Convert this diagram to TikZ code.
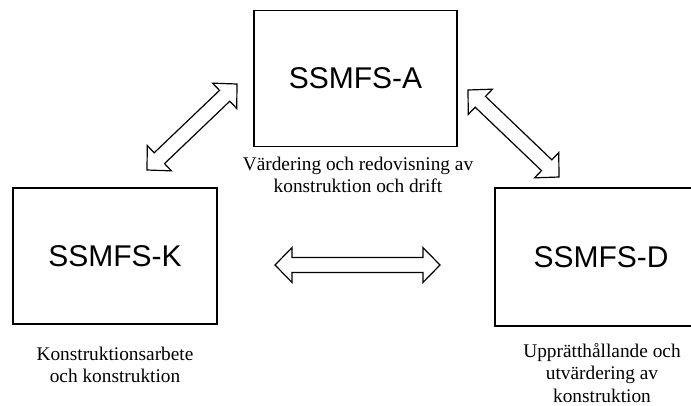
\documentclass[tikz,border=0pt]{standalone}
\usepackage{fontspec}
\setmainfont{Liberation Serif}
\setsansfont{Liberation Sans}
\usetikzlibrary{calc, positioning}

% hollow two-headed arrow between two named points
\newcommand{\blockarrow}[2]{%
  \draw[barrow]
    (#1)
    -- ($(#1)!12.8pt!(#2)!13.1pt!90:(#2)$)
    -- ($(#1)!12.8pt!(#2)!5.6pt!90:(#2)$)
    -- ($(#2)!12.8pt!(#1)!5.6pt!-90:(#1)$)
    -- ($(#2)!12.8pt!(#1)!13.1pt!-90:(#1)$)
    -- (#2)
    -- ($(#2)!12.8pt!(#1)!13.1pt!90:(#1)$)
    -- ($(#2)!12.8pt!(#1)!5.6pt!90:(#1)$)
    -- ($(#1)!12.8pt!(#2)!5.6pt!-90:(#2)$)
    -- ($(#1)!12.8pt!(#2)!13.1pt!-90:(#2)$)
    -- cycle;
}

\begin{document}
\begin{tikzpicture}[
  x=0.75pt, y=-0.75pt,
  part/.style    = {draw, line width=1.2pt, rectangle, inner sep=0pt,
                    minimum height=102pt, font=\sffamily\fontsize{22.5}{26}\selectfont},
  note/.style    = {align=center, inner sep=0pt, font=\fontsize{14.5}{17}\selectfont},
  barrow/.style  = {line width=0.9pt, line join=miter},
]
  \useasboundingbox (0,0) rectangle (691,405);
  \clip (0,0) rectangle (691,405);

  % Boxes
  \node[part, minimum width=152pt] (ssmA) at (355.5,78.5) {SSMFS-A};
  \node[part, minimum width=153pt] (ssmK) at (115,256)    {SSMFS-K};
  % this box runs off the right side, so only three sides
  \node[font=\sffamily\fontsize{22.5}{26}\selectfont] (ssmD) at (601,257) {SSMFS-D};
  \coordinate (dNE) at (700,188);
  \coordinate (dNW) at (495,188);
  \coordinate (dSW) at (495,326);
  \coordinate (dSE) at (700,326);
  \draw[line width=1.2pt] (dNE) -- (dNW) -- (dSW) -- (dSE);

  % Descriptions under the boxes
  \node[note] (noteA) at (358,175) {Värdering och redovisning av\\konstruktion och drift};
  \node[note] (noteK) at (115,365) {Konstruktionsarbete\\och konstruktion};
  \node[note] (noteD) at (602,373) {Upprätthållande och\\utvärdering av\\konstruktion};

  % Arrow ends
  \coordinate (akK) at (147,170);
  \coordinate (akA) at (237,84);
  \coordinate (adA) at (468,90);
  \coordinate (adD) at (559,177);
  \coordinate (kdK) at (275,265);
  \coordinate (kdD) at (440,265);

  % Links between the parts
  \blockarrow{akK}{akA}
  \blockarrow{adA}{adD}
  \blockarrow{kdK}{kdD}
\end{tikzpicture}
\end{document}
